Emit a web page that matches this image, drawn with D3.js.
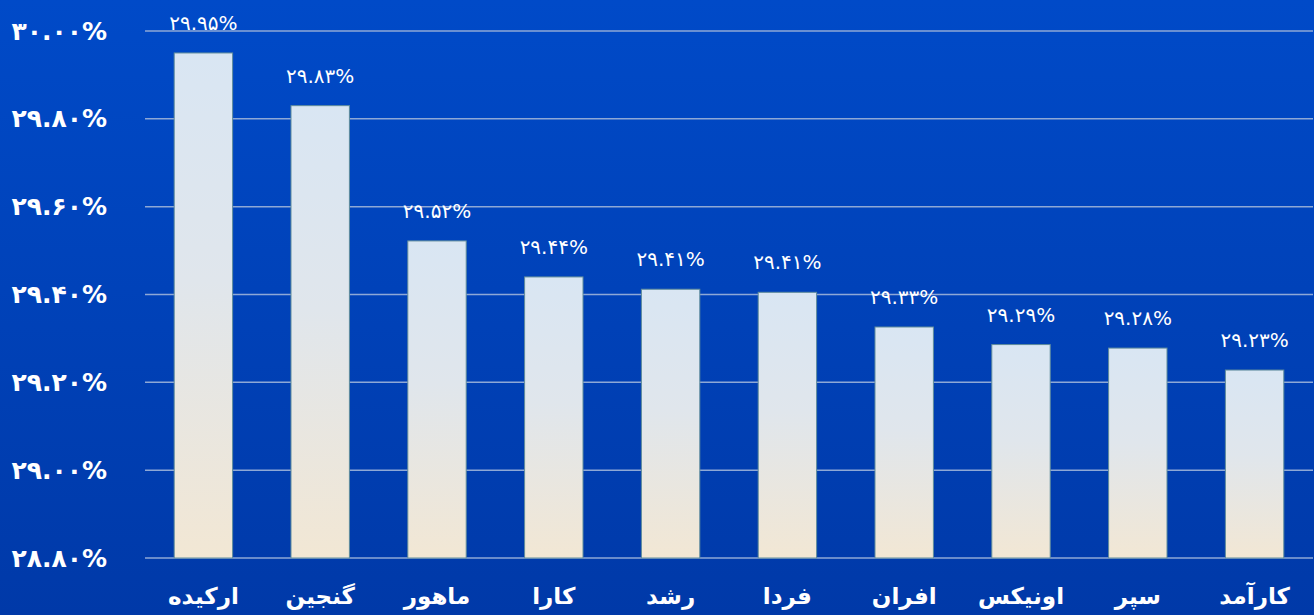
<!DOCTYPE html>
<html>
<head>
<meta charset="utf-8">
<script src="https://cdn.jsdelivr.net/npm/d3@7"></script>
<style>
  html, body { margin: 0; padding: 0; }
  body { width: 1314px; height: 615px; overflow: hidden; }
  svg { display: block; font-family: "DejaVu Sans", sans-serif; }
</style>
</head>
<body>
<svg id="chart" width="1314" height="615"></svg>
<script>
// data //
const categories = ['ارکیده', 'گنجین', 'ماهور', 'کارا', 'رشد', 'فردا', 'افران', 'اونیکس', 'سپر', 'کارآمد']
const values = [29.95, 29.83, 29.522, 29.44, 29.412, 29.405, 29.326, 29.286, 29.278, 29.228]
const yTicks = [28.8, 29.0, 29.2, 29.4, 29.6, 29.8, 30.0]

const width = 1314
const height = 615
const margin = { top: 31, right: 1, bottom: 57, left: 145 }

// persian digits
const fa = d3.formatLocale({
    decimal: '.',
    thousands: ',',
    grouping: [3],
    currency: ['', ''],
    numerals: ['۰', '۱', '۲', '۳', '۴', '۵', '۶', '۷', '۸', '۹']
})
const fmt = fa.format('.2f')

const svg = d3.select('#chart')
const defs = svg.append('defs')

// background gradient
const bg = defs.append('linearGradient')
    .attr('id', 'bg')
    .attr('x1', 0).attr('y1', 0).attr('x2', 0).attr('y2', 1)
bg.append('stop').attr('offset', '0%').attr('stop-color', '#004ac8')
bg.append('stop').attr('offset', '100%').attr('stop-color', '#0039a8')

// bar gradient
const barGrad = defs.append('linearGradient')
    .attr('id', 'bar')
    .attr('x1', 0).attr('y1', 0).attr('x2', 0).attr('y2', 1)
barGrad.append('stop').attr('offset', '0%').attr('stop-color', '#d9e6f3')
barGrad.append('stop').attr('offset', '45%').attr('stop-color', '#e0e6ec')
barGrad.append('stop').attr('offset', '100%').attr('stop-color', '#f2e7d4')

svg.append('rect')
    .attr('width', width)
    .attr('height', height)
    .attr('fill', 'url(#bg)')

// scales //
const xScale = d3.scaleBand()
    .domain(categories)
    .range([margin.left, width - margin.right])
    .paddingInner(0.5)
    .paddingOuter(0.25)

const yScale = d3.scaleLinear()
    .domain([28.8, 30.0])
    .range([height - margin.bottom, margin.top])

// grid //
svg.append('g')
    .selectAll('line')
    .data(yTicks)
    .join('line')
    .attr('x1', margin.left)
    .attr('x2', width - margin.right)
    .attr('y1', d => yScale(d))
    .attr('y2', d => yScale(d))
    .attr('stroke', '#8ea8d6')
    .attr('stroke-width', 1.5)

// Y axis //
const yAxis = d3.axisLeft(yScale)
    .tickValues(yTicks)
    .tickSize(0)
    .tickPadding(0)
    .tickFormat(d => fmt(d) + '%')

svg.append('g')
    .attr('class', 'yAxis')
    .attr('transform', 'translate(107, 0)')
    .call(yAxis)
    .call(g => g.select('.domain').remove())
    .selectAll('text')
    .attr('fill', '#ffffff')
    .attr('font-size', 25)
    .attr('font-weight', 'bold')
    .attr('font-family', '"DejaVu Sans", sans-serif')

// bars //
svg.append('g')
    .selectAll('rect')
    .data(values)
    .join('rect')
    .attr('x', (d, i) => xScale(categories[i]))
    .attr('y', d => yScale(d))
    .attr('width', xScale.bandwidth())
    .attr('height', d => yScale(28.8) - yScale(d))
    .attr('fill', 'url(#bar)')
    .attr('stroke', '#5f8c9c')
    .attr('stroke-width', 1)

// value labels //
svg.append('g')
    .selectAll('text')
    .data(values)
    .join('text')
    .attr('x', (d, i) => xScale(categories[i]) + xScale.bandwidth() / 2)
    .attr('y', d => yScale(d) - 23)
    .attr('text-anchor', 'middle')
    .attr('fill', '#ffffff')
    .attr('font-size', 20)
    .attr('letter-spacing', 1)
    .text(d => fmt(d) + '%')

// X axis //
const xAxis = d3.axisBottom(xScale)
    .tickSize(0)
    .tickPadding(0)

svg.append('g')
    .attr('class', 'xAxis')
    .attr('transform', `translate(0, ${height - margin.bottom + 30})`)
    .call(xAxis)
    .call(g => g.select('.domain').remove())
    .selectAll('text')
    .attr('dy', '0.71em')
    .attr('fill', '#ffffff')
    .attr('font-size', 23)
    .attr('font-weight', 'bold')
    .attr('font-family', '"DejaVu Sans", sans-serif')
</script>
</body>
</html>
